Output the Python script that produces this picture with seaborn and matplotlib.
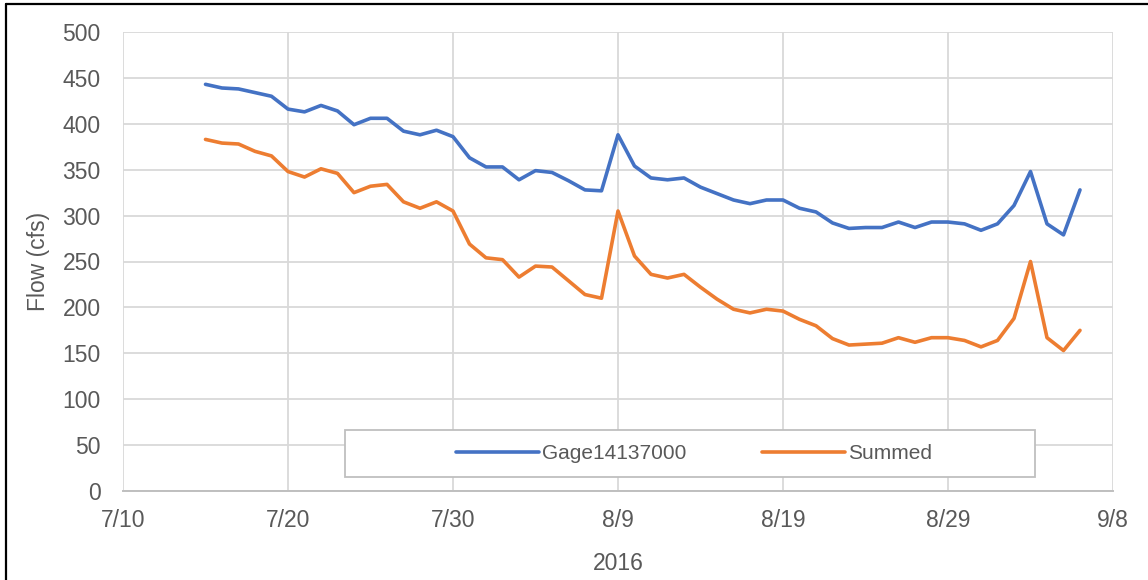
import pandas as pd
import matplotlib
matplotlib.use("Agg")
import matplotlib.pyplot as plt
import matplotlib.dates as mdates
from matplotlib.patches import Rectangle
from matplotlib.lines import Line2D
import seaborn as sns

# Daily flows, 7/15/2016 - 9/6/2016
dates = pd.date_range("2016-07-15", "2016-09-06", freq="D")

gage = [443, 439, 438, 434, 430, 416, 413, 420, 414, 399,
        406, 406, 392, 388, 393, 386, 363, 353, 353, 339,
        349, 347, 338, 328, 327, 388, 354, 341, 339, 341,
        331, 324, 317, 313, 317, 317, 308, 304, 292, 286,
        287, 287, 293, 287, 293, 293, 291, 284, 291, 311,
        348, 291, 279, 328]

summed = [383, 379, 378, 370, 365, 348, 342, 351, 346, 325,
          332, 334, 315, 308, 315, 305, 269, 254, 252, 233,
          245, 244, 229, 214, 210, 305, 256, 236, 232, 236,
          222, 209, 198, 194, 198, 196, 187, 180, 166, 159,
          160, 161, 167, 162, 167, 167, 164, 157, 164, 188,
          250, 167, 153, 175]

series_names = ["Gage14137000", "Summed"]
colors = ["#4472C4", "#ED7D31"]
x_ticks = pd.date_range("2016-07-10", "2016-09-08", freq="10D")

df = pd.DataFrame({"date": dates, series_names[0]: gage, series_names[1]: summed})
long_df = df.melt(id_vars="date", var_name="series", value_name="flow")

sns.set_theme(style="whitegrid")
plt.rcParams["font.family"] = ["Liberation Sans", "DejaVu Sans"]

txt = "#595959"
grid = "#d9d9d9"

fig = plt.figure(figsize=(11.48, 5.8), dpi=100)
ax = fig.add_axes([123 / 1148, 1 - 491 / 580, 990 / 1148, 459 / 580])

sns.lineplot(data=long_df, x="date", y="flow", hue="series",
             palette=colors, linewidth=2.6, ax=ax, legend=True)

ax.set_xlim(x_ticks[0], x_ticks[-1])
ax.set_ylim(0, 500)
ax.set_yticks(range(0, 501, 50))
ax.set_xticks(x_ticks)
ax.xaxis.set_major_formatter(mdates.DateFormatter("%-m/%-d"))

ax.grid(True, color=grid, linewidth=1.3)
for s in ["top", "right", "left"]:
    ax.spines[s].set_visible(False)
ax.spines["bottom"].set_color("#bfbfbf")
ax.spines["bottom"].set_linewidth(1.4)

ax.tick_params(axis="y", length=0, pad=16, labelsize=16.5, labelcolor=txt)
ax.tick_params(axis="x", length=0, pad=13, labelsize=16.5, labelcolor=txt)
ax.set_ylabel("Flow (cfs)", fontsize=16.5, color=txt, labelpad=9)
ax.set_xlabel("2016", fontsize=16.5, color=txt, labelpad=14)

# legend box (wide Excel-style frame) plus the entries on top of it
handles, labels = ax.get_legend_handles_labels()
box = Rectangle((222 / 990, 14 / 459), 690 / 990, 47 / 459, transform=ax.transAxes,
                facecolor="white", edgecolor="#bfbfbf", linewidth=1.3, zorder=4)
ax.add_patch(box)
leg = ax.legend(handles, labels, loc="center", bbox_to_anchor=(571 / 990, 37.5 / 459),
                ncol=2, frameon=False, fontsize=15, handlelength=4.0,
                handletextpad=0.15, columnspacing=3.6, labelcolor=txt)
leg.set_zorder(5)
for h in leg.get_lines():
    h.set_linewidth(2.6)

# dark outer frame (top and left edges of the screenshot)
fig.add_artist(Line2D([6 / 1148, 6 / 1148], [0, 1 - 4 / 580], transform=fig.transFigure,
                      color="black", linewidth=1.6))
fig.add_artist(Line2D([6 / 1148, 1], [1 - 4 / 580, 1 - 4 / 580], transform=fig.transFigure,
                      color="black", linewidth=1.6))

fig.savefig("out.png", dpi=100)
